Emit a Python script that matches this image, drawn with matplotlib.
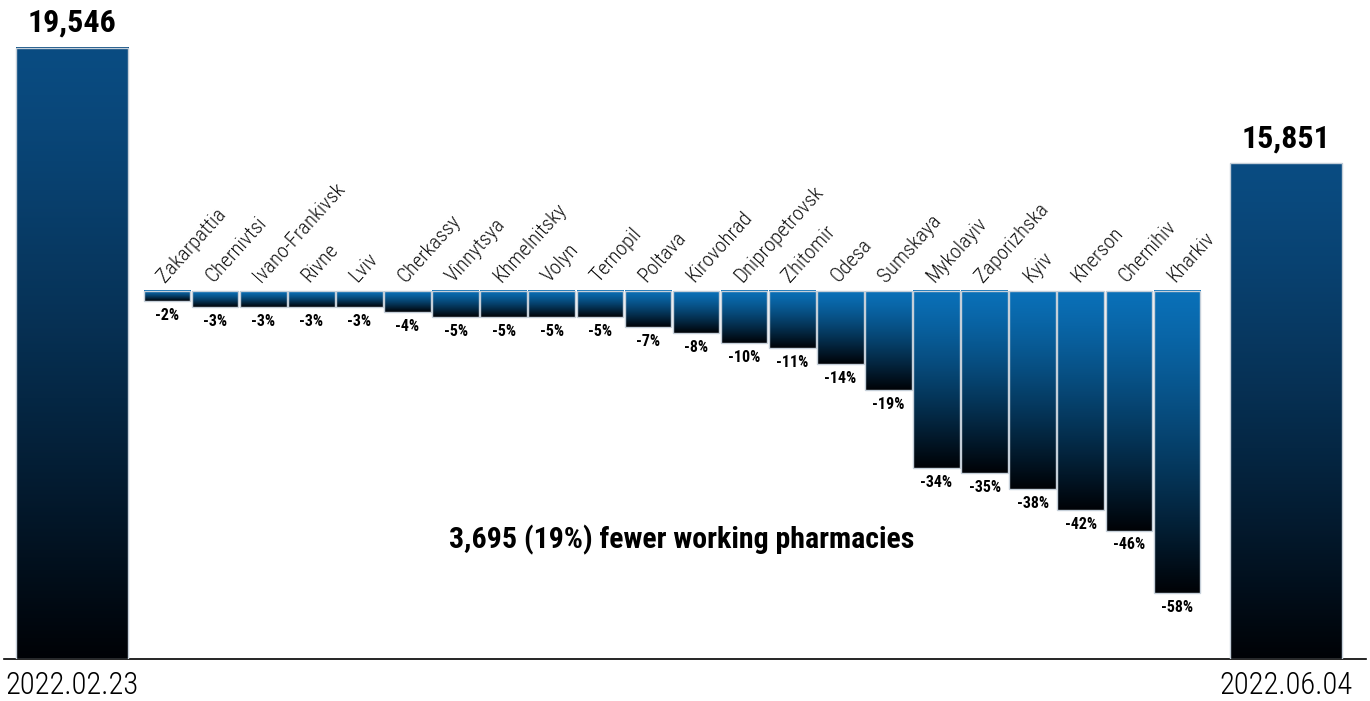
import numpy as np
import matplotlib
matplotlib.use('Agg')
import matplotlib.pyplot as plt
from matplotlib import font_manager
from matplotlib.patches import Rectangle

# data
regions = ['Zakarpattia', 'Chernivtsi', 'Ivano-Frankivsk', 'Rivne', 'Lviv', 'Cherkassy',
           'Vinnytsya', 'Khmelnitsky', 'Volyn', 'Ternopil', 'Poltava', 'Kirovohrad',
           'Dnipropetrovsk', 'Zhitomir', 'Odesa', 'Sumskaya', 'Mykolayiv', 'Zaporizhska',
           'Kyiv', 'Kherson', 'Chernihiv', 'Kharkiv']
change_pct = [-2, -3, -3, -3, -3, -4, -5, -5, -5, -5, -7, -8, -10, -11, -14, -19,
              -34, -35, -38, -42, -46, -58]
dates = ['2022.02.23', '2022.06.04']
totals = [19546, 15851]
summary = '3,695 (19%) fewer working pharmacies'

# fonts: condensed family if there is one
installed = {f.name for f in font_manager.fontManager.ttflist}


def pick(*names):
    for n in names:
        if n in installed:
            return n
    return 'DejaVu Sans'


cond = pick('Roboto Condensed', 'Liberation Sans Narrow', 'DejaVu Sans')
light = 'light' if cond == 'Roboto Condensed' else 'normal'

blue_mid = (10 / 255, 112 / 255, 184 / 255)
blue_big = (10 / 255, 76 / 255, 130 / 255)
black = (0, 2 / 255, 6 / 255)
edge = '#c5cfd9'


def gradient_bar(ax, xc, w, y0, y1, top, bottom):
    t = np.linspace(0, 1, 256)[:, None, None] ** 1.25
    img = (1 - t) * np.array(top)[None, None, :] + t * np.array(bottom)[None, None, :]
    ax.imshow(img, extent=[xc - w / 2, xc + w / 2, y0, y1], origin='upper',
              aspect='auto', interpolation='bilinear', zorder=2)
    ax.add_patch(Rectangle((xc - w / 2, y0), w, y1 - y0, fill=False,
                           edgecolor=edge, lw=1, zorder=3))


fig = plt.figure(figsize=(13.7, 7.01), dpi=100)
ax = fig.add_axes([4 / 1370, 42 / 701, 1362 / 1370, 659 / 701])
ax2 = ax.twinx()

x_mid = np.arange(len(regions))
x_big = [-1.975, 23.26]

# totals (left axis)
for xb, v in zip(x_big, totals):
    gradient_bar(ax, xb, 2.33, 0, v, blue_big, black)
    ax.annotate(f'{v:,}', (xb, v), xytext=(0, 7.5), textcoords='offset points',
                ha='center', va='bottom', fontsize=23, fontweight='bold',
                family=cond, color='black')

# regional change (right axis)
for xm, v, name in zip(x_mid, change_pct, regions):
    gradient_bar(ax2, xm, 0.97, v, 0, blue_mid, black)
    ax2.annotate(f'{v}%', (xm, v), xytext=(0, -5), textcoords='offset points',
                 ha='center', va='top', fontsize=11.5, fontweight='bold',
                 family=cond, color='black')
    ax2.annotate(name, (xm - 0.04, 0), xytext=(0, 5.5), textcoords='offset points',
                 ha='left', va='baseline', rotation=48, rotation_mode='anchor',
                 fontsize=15, fontweight=light, family=cond, color='#111111')

ax.set_xlim(-3.389, 24.93)
ax.set_ylim(0, 21081)
ax2.set_ylim(-70.67, 55.89)

ax.set_xticks(x_big)
ax.set_xticklabels(dates, fontsize=22, family=cond, fontweight=light)
ax.tick_params(axis='x', length=0, pad=9)
ax.set_yticks([])
ax2.set_yticks([])
for s in ['top', 'left', 'right']:
    ax.spines[s].set_visible(False)
for s in ax2.spines.values():
    s.set_visible(False)
ax.spines['bottom'].set_linewidth(1.2)
ax.spines['bottom'].set_color('black')

fig.text(682 / 1370, 1 - 540 / 701, summary, ha='center', va='center',
         fontsize=21.5, fontweight='bold', family=cond)

fig.savefig('out.png', dpi=100)
